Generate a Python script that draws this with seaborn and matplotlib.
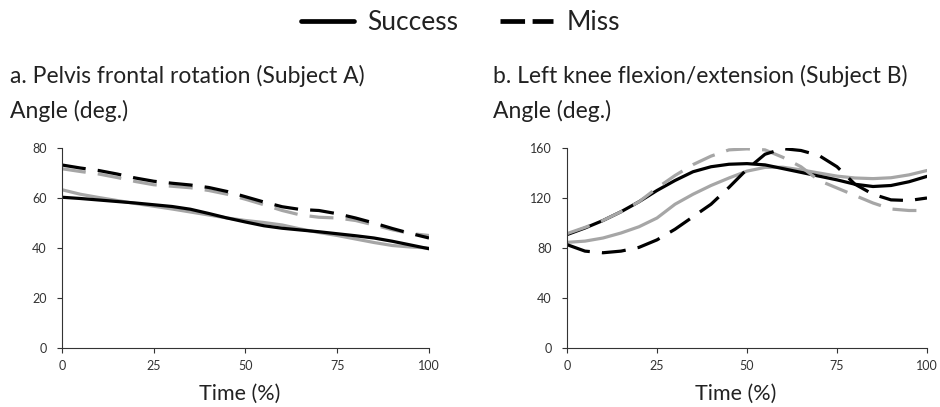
import matplotlib
matplotlib.use("Agg")
import matplotlib.pyplot as plt
import seaborn as sns
import pandas as pd
from matplotlib.lines import Line2D

sns.set_theme(style="ticks")
plt.rcParams['font.family'] = ['Lato', 'DejaVu Sans']

time_pct = [0, 5, 10, 15, 20, 25, 30, 35, 40, 45, 50, 55, 60, 65, 70, 75, 80, 85, 90, 95, 100]

# Panel a: Pelvis frontal rotation (Subject A)
a_success_black = [60.3, 59.8, 59.2, 58.6, 58.0, 57.3, 56.6, 55.5, 53.8, 52.0, 50.4, 48.9, 47.9, 47.2, 46.5, 45.7, 44.9, 44.0, 42.7, 41.2, 39.7]
a_success_gray = [63.3, 61.5, 60.2, 59.0, 57.8, 56.7, 55.6, 54.4, 53.2, 52.0, 51.0, 50.2, 49.2, 47.6, 46.2, 45.0, 43.6, 42.2, 41.0, 40.4, 40.0]
a_miss_black = [73.2, 72.0, 71.0, 69.6, 68.0, 66.7, 65.9, 65.2, 64.2, 62.6, 60.5, 58.4, 56.5, 55.4, 55.0, 53.7, 52.0, 50.0, 47.8, 45.8, 44.0]
a_miss_gray = [71.7, 70.6, 69.6, 68.2, 66.6, 65.3, 64.7, 64.1, 63.0, 61.5, 59.5, 57.3, 55.0, 53.2, 52.3, 52.0, 51.0, 49.2, 47.3, 45.8, 45.0]

# Panel b: Left knee flexion/extension (Subject B)
b_success_black = [90.7, 96.0, 102.0, 109.0, 117.0, 126.0, 134.0, 141.0, 145.0, 147.0, 147.5, 146.5, 143.5, 140.5, 137.5, 134.5, 131.0, 129.2, 130.0, 133.0, 137.3]
b_success_gray = [84.5, 85.5, 88.0, 92.0, 97.0, 104.0, 115.0, 123.0, 130.0, 136.0, 141.5, 144.5, 144.6, 142.5, 140.0, 137.5, 136.0, 135.5, 136.2, 138.5, 142.0]
b_miss_black = [82.7, 77.5, 76.2, 77.5, 80.5, 86.5, 95.0, 105.0, 115.0, 128.5, 143.0, 155.0, 159.5, 158.0, 154.0, 145.0, 131.0, 123.0, 118.5, 118.0, 120.0]
b_miss_gray = [91.5, 96.5, 102.0, 109.0, 117.0, 128.0, 138.0, 146.7, 153.5, 158.5, 159.3, 158.5, 152.5, 145.0, 134.0, 128.0, 122.0, 116.0, 111.2, 110.0, 110.0]

a_yticks = [0, 20, 40, 60, 80]
b_yticks = [0, 40, 80, 120, 160]
x_ticks = [0, 25, 50, 75, 100]

def to_df(x, series):
    rows = []
    for name, vals in series.items():
        for xi, yi in zip(x, vals):
            rows.append({"Time": xi, "Angle": yi, "series": name})
    return pd.DataFrame(rows)

BLACK = "#000000"
GRAY = "#a6a6a6"
LW = 2.3
DASH = (7.5, 3.8)
H = 407.0

fig = plt.figure(figsize=(9.4, 4.07), dpi=100)
ax1 = fig.add_axes([62/940, 59/H, 367/940, 200/H])
ax2 = fig.add_axes([567/940, 59/H, 360/940, 200/H])

def draw(ax, bs, gs, bd, gd):
    df_s = to_df(time_pct, {"gray": gs, "black": bs})
    df_d = to_df(time_pct, {"gray": gd, "black": bd})
    sns.lineplot(data=df_s, x="Time", y="Angle", hue="series",
                 palette={"gray": GRAY, "black": BLACK}, lw=LW, ax=ax, legend=False)
    n = len(ax.lines)
    sns.lineplot(data=df_d, x="Time", y="Angle", hue="series",
                 palette={"gray": GRAY, "black": BLACK}, lw=LW, ax=ax, legend=False)
    for ln in ax.lines[n:]:
        ln.set_dashes(DASH)

draw(ax1, a_success_black, a_success_gray, a_miss_black, a_miss_gray)
draw(ax2, b_success_black, b_success_gray, b_miss_black, b_miss_gray)

for ax, yt, xl in [(ax1, a_yticks, 0.484), (ax2, b_yticks, 0.469)]:
    ax.set_xlim(0, 100)
    ax.set_ylim(0, yt[-1])
    ax.set_xticks(x_ticks)
    ax.set_yticks(yt)
    ax.tick_params(labelsize=9, colors="#333333", length=3.6, width=0.8)
    ax.tick_params(axis="x", pad=5.3)
    ax.tick_params(axis="y", pad=7.5)
    for s in ["top", "right"]:
        ax.spines[s].set_visible(False)
    for s in ["left", "bottom"]:
        ax.spines[s].set_color("#333333")
        ax.spines[s].set_linewidth(0.8)
    ax.set_xlabel("Time (%)", fontsize=15.5, color="#222222")
    ax.xaxis.label.set_va("baseline")
    ax.xaxis.set_label_coords(xl, (348 - 400) / 200)
    ax.set_ylabel("")

TS = 16.5
TC = "#222222"
fig.text(10/940, 1 - 83/H, "a. Pelvis frontal rotation (Subject A)", fontsize=TS, va="baseline", ha="left", color=TC)
fig.text(10/940, 1 - 118/H, "Angle (deg.)", fontsize=TS, va="baseline", ha="left", color=TC)
fig.text(493/940, 1 - 83/H, "b. Left knee flexion/extension (Subject B)", fontsize=TS, va="baseline", ha="left", color=TC)
fig.text(493/940, 1 - 118/H, "Angle (deg.)", fontsize=TS, va="baseline", ha="left", color=TC)

handles = [Line2D([], [], color=BLACK, lw=3.4),
           Line2D([], [], color=BLACK, lw=3.4, dashes=(5.2, 1.6))]
fig.legend(handles, ["Success", "Miss"], loc="center", bbox_to_anchor=(0.49, 1 - 23/H),
           ncol=2, frameon=False, fontsize=19, handlelength=2.0, columnspacing=1.6,
           handletextpad=0.5, labelcolor=TC)

fig.savefig("out.png", dpi=100)
